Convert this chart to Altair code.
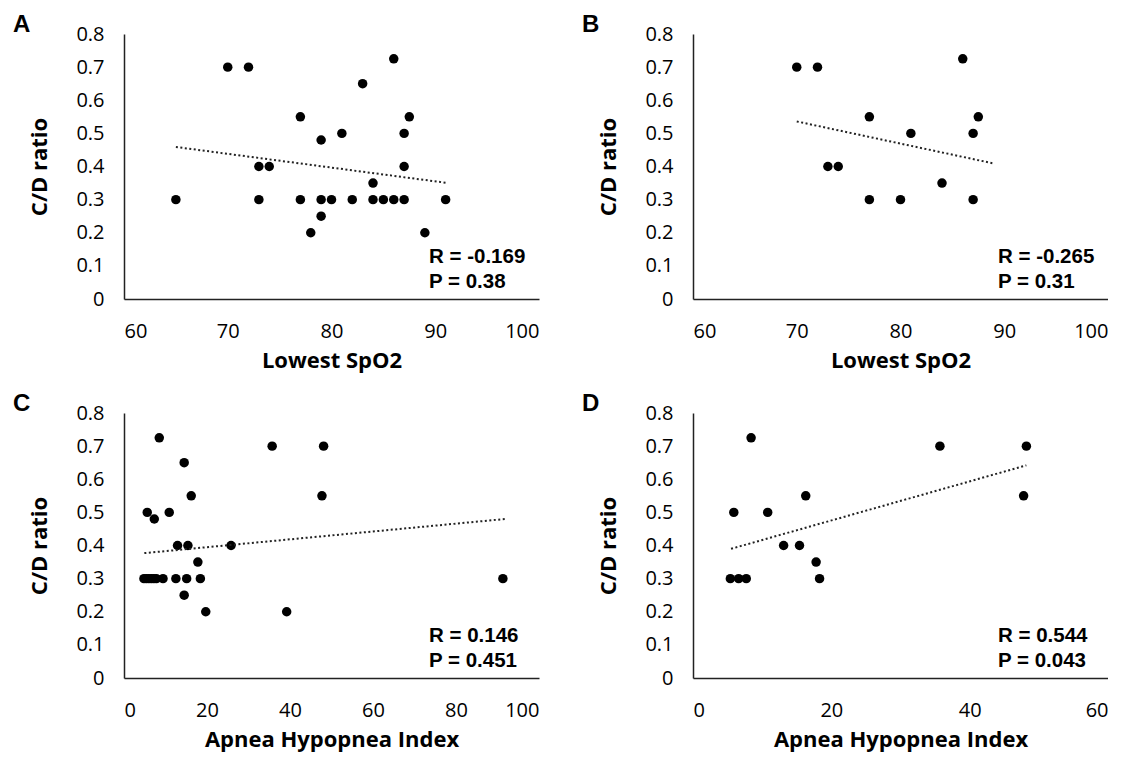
import altair as alt
import pandas as pd

# ---------------- data ----------------
# Panel A: Lowest SpO2 vs C/D ratio (all)
a_x = [65, 70, 72, 73, 74, 73, 77, 77, 78, 79, 79, 79, 80, 81, 82, 83, 84, 84, 85, 86, 86, 87, 87, 87, 87.5, 89, 91]
a_y = [0.3, 0.7, 0.7, 0.4, 0.4, 0.3, 0.55, 0.3, 0.2, 0.48, 0.3, 0.25, 0.3, 0.5, 0.3, 0.65, 0.35, 0.3, 0.3, 0.725, 0.3, 0.5, 0.4, 0.3, 0.55, 0.2, 0.3]
a_trend_x = [65, 91]
a_trend_y = [0.459, 0.351]

# Panel B: Lowest SpO2 vs C/D ratio (subgroup)
b_x = [70, 72, 73, 74, 77, 77, 80, 81, 84, 86, 87, 87, 87.5]
b_y = [0.7, 0.7, 0.4, 0.4, 0.55, 0.3, 0.3, 0.5, 0.35, 0.725, 0.5, 0.3, 0.55]
b_trend_x = [70, 89]
b_trend_y = [0.536, 0.409]

# Panel C: Apnea Hypopnea Index vs C/D ratio (all)
c_x = [8.5, 35.7, 48.1, 14.5, 16.2, 47.7, 5.6, 10.9, 7.3, 12.9, 15.4, 25.8, 17.8,
       4.8, 5.4, 6.0, 6.6, 7.2, 7.8, 9.4, 12.5, 15.1, 18.4, 91.3,
       14.5, 19.7, 39.2]
c_y = [0.725, 0.7, 0.7, 0.65, 0.55, 0.55, 0.5, 0.5, 0.48, 0.4, 0.4, 0.4, 0.35,
       0.3, 0.3, 0.3, 0.3, 0.3, 0.3, 0.3, 0.3, 0.3, 0.3, 0.3,
       0.25, 0.2, 0.2]
c_trend_x = [4.9, 91.8]
c_trend_y = [0.377, 0.48]

# Panel D: Apnea Hypopnea Index vs C/D ratio (subgroup)
d_x = [8.4, 35.7, 48.2, 16.3, 47.8, 5.9, 10.8, 13.1, 15.4, 17.8, 5.4, 6.6, 7.7, 18.3]
d_y = [0.725, 0.7, 0.7, 0.55, 0.55, 0.5, 0.5, 0.4, 0.4, 0.35, 0.3, 0.3, 0.3, 0.3]
d_trend_x = [5.5, 48.2]
d_trend_y = [0.39, 0.642]

y_ticks = [0, 0.1, 0.2, 0.3, 0.4, 0.5, 0.6, 0.7, 0.8]
spo2_ticks = [60, 70, 80, 90, 100]
ahi_c_ticks = [0, 20, 40, 60, 80, 100]
ahi_d_ticks = [0, 20, 40, 60]

panels = [
    dict(letter="A", xs=a_x, ys=a_y, tx=a_trend_x, ty=a_trend_y, dom=[60, 100], ticks=spo2_ticks,
         xtitle="Lowest SpO2", stats="R = -0.169\nP = 0.38"),
    dict(letter="B", xs=b_x, ys=b_y, tx=b_trend_x, ty=b_trend_y, dom=[60, 100], ticks=spo2_ticks,
         xtitle="Lowest SpO2", stats="R = -0.265\nP = 0.31"),
    dict(letter="C", xs=c_x, ys=c_y, tx=c_trend_x, ty=c_trend_y, dom=[0, 100], ticks=ahi_c_ticks,
         xtitle="Apnea Hypopnea Index", stats="R = 0.146\nP = 0.451"),
    dict(letter="D", xs=d_x, ys=d_y, tx=d_trend_x, ty=d_trend_y, dom=[0, 60], ticks=ahi_d_ticks,
         xtitle="Apnea Hypopnea Index", stats="R = 0.544\nP = 0.043"),
]

W, H = 415, 265


def make_panel(p):
    xs = alt.Scale(domain=p["dom"], nice=False, zero=False)
    ys = alt.Scale(domain=[0, 0.8], nice=False)
    xaxis = alt.Axis(values=p["ticks"], title=p["xtitle"], labelPadding=22, titlePadding=9,
                     labelOverlap=False)
    yaxis = alt.Axis(values=y_ticks, format=".1~f", title="C/D ratio", labelPadding=20,
                     titlePadding=24, labelOverlap=False)

    pts = alt.Chart(pd.DataFrame({"x": p["xs"], "y": p["ys"]})).mark_circle(
        size=90, color="black", opacity=1
    ).encode(
        x=alt.X("x:Q", scale=xs, axis=xaxis),
        y=alt.Y("y:Q", scale=ys, axis=yaxis),
    )
    trend = alt.Chart(pd.DataFrame({"x": p["tx"], "y": p["ty"]})).mark_line(
        strokeDash=[2, 2.5], strokeWidth=2, color="#222"
    ).encode(
        x=alt.X("x:Q", scale=xs, axis=xaxis),
        y=alt.Y("y:Q", scale=ys, axis=yaxis),
    )

    letter = alt.Chart(pd.DataFrame({"t": [p["letter"]]})).mark_text(
        font="Liberation Sans", fontSize=24, fontWeight="bold", align="left",
        baseline="alphabetic", color="black"
    ).encode(text="t:N", x=alt.value(-111), y=alt.value(-2))

    stats = alt.Chart(pd.DataFrame({"t": [p["stats"]]})).mark_text(
        font="Liberation Sans", fontSize=20.5, fontWeight="bold", align="left",
        baseline="alphabetic", color="black", lineBreak="\n", lineHeight=25
    ).encode(text="t:N", x=alt.value(305), y=alt.value(229))

    return alt.layer(pts, trend, letter, stats).properties(width=W, height=H)


row1 = alt.hconcat(make_panel(panels[0]), make_panel(panels[1]), spacing=43)
row2 = alt.hconcat(make_panel(panels[2]), make_panel(panels[3]), spacing=43)

chart = alt.vconcat(row1, row2, spacing=21).properties(
    padding={"left": 5, "top": 5, "right": 0, "bottom": 4}
).configure_view(stroke=None).configure_axis(
    grid=False, ticks=False,
    domainColor="#222", domainWidth=1.5,
    labelFont="Open Sans", labelFontSize=20, labelColor="black",
    titleFont="Open Sans", titleFontSize=22, titleFontWeight="bold", titleColor="black",
)

chart.save("out.html", embed_options={"renderer": "svg", "actions": False})
